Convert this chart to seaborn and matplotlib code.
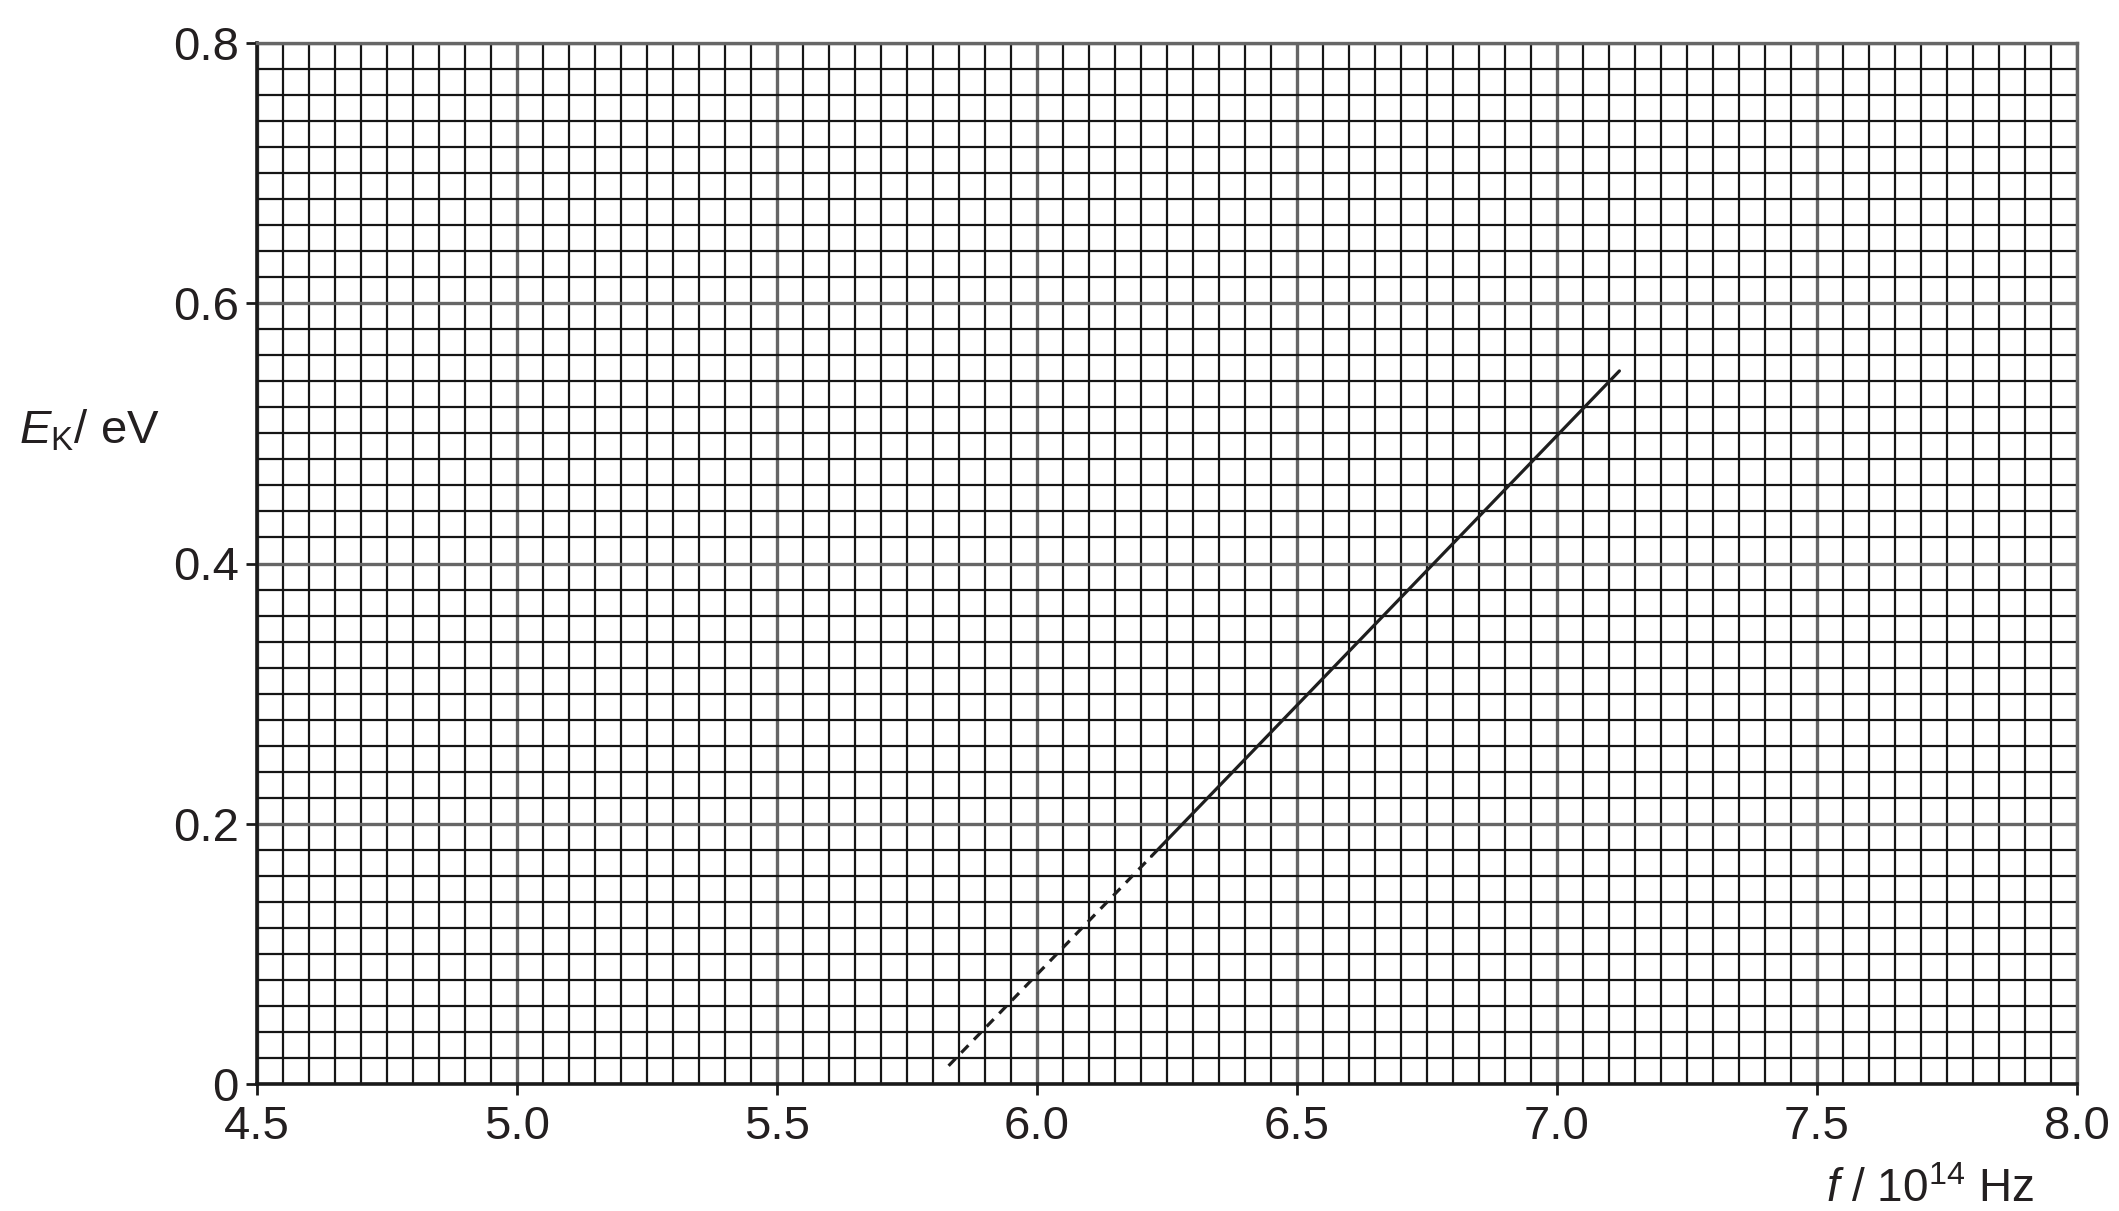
import numpy as np
import seaborn as sns
import matplotlib.pyplot as plt
from matplotlib.ticker import MultipleLocator

# graph paper data: best-fit line (solid) and its extrapolation to the axis (dashed)
f_fit = [6.22, 7.12]
ek_fit = [0.175, 0.548]
f_ext = [5.83, 6.22]
ek_ext = [0.014, 0.175]

x_ticks = [4.5, 5.0, 5.5, 6.0, 6.5, 7.0, 7.5, 8.0]
x_labels = ["4.5", "5.0", "5.5", "6.0", "6.5", "7.0", "7.5", "8.0"]
y_ticks = [0, 0.2, 0.4, 0.6, 0.8]
y_labels = ["0", "0.2", "0.4", "0.6", "0.8"]

sns.set_theme(style="white")
plt.rcParams["font.family"] = ["Liberation Sans", "DejaVu Sans"]
plt.rcParams["mathtext.fontset"] = "custom"
plt.rcParams["mathtext.rm"] = "Liberation Sans"
plt.rcParams["mathtext.it"] = "Liberation Sans:italic"

text_col = "#231f20"
major_col = "#666666"
minor_col = "#151515"

fig = plt.figure(figsize=(21.19, 12.11), dpi=100)
ax = fig.add_axes([257 / 2119, 1 - 1084 / 1211, 1820 / 2119, 1041 / 1211])
ax.set_facecolor("white")

# fine grid (0.05 x 0.02) in black, coarse grid (0.5 x 0.2) in grey
ax.xaxis.set_minor_locator(MultipleLocator(0.05))
ax.yaxis.set_minor_locator(MultipleLocator(0.02))
ax.grid(which="minor", color=minor_col, linewidth=1.6, zorder=0)
ax.grid(which="major", color=major_col, linewidth=2.4, zorder=1)
ax.set_axisbelow(True)

sns.lineplot(x=f_ext, y=ek_ext, ax=ax, color="#1e1e1e", linewidth=2.3,
             linestyle=(0, (3.2, 2.5)), zorder=3)
sns.lineplot(x=f_fit, y=ek_fit, ax=ax, color="#1e1e1e", linewidth=2.3, zorder=3)

ax.set_xlim(4.5, 8.0)
ax.set_ylim(0, 0.8)
ax.set_xticks(x_ticks)
ax.set_xticklabels(x_labels)
ax.set_yticks(y_ticks)
ax.set_yticklabels(y_labels)

ax.tick_params(which="major", direction="out", length=8, width=2, color="#1a1a1a",
               labelsize=34, labelcolor=text_col, pad=4,
               bottom=True, left=True)
ax.tick_params(axis="x", which="major", pad=7)
ax.tick_params(axis="y", which="major", pad=5)
ax.tick_params(which="minor", length=0)

for side in ["left", "bottom"]:
    ax.spines[side].set_color("#1a1a1a")
    ax.spines[side].set_linewidth(2.6)
for side in ["top", "right"]:
    ax.spines[side].set_color(major_col)
    ax.spines[side].set_linewidth(2.4)

ax.set_xlabel(r"$f$ / 10$^{14}$ Hz", fontsize=33, color=text_col)
ax.xaxis.set_label_coords(0.919, -0.102)
ax.xaxis.label.set_va("center")

ax.set_ylabel(r"$E_{\mathrm{K}}$/ eV", fontsize=34, color=text_col, rotation=0)
ax.yaxis.set_label_coords(-0.092, 0.628)
ax.yaxis.label.set_va("center")
ax.yaxis.label.set_ha("center")

fig.savefig("out.png", dpi=100, facecolor="white")
